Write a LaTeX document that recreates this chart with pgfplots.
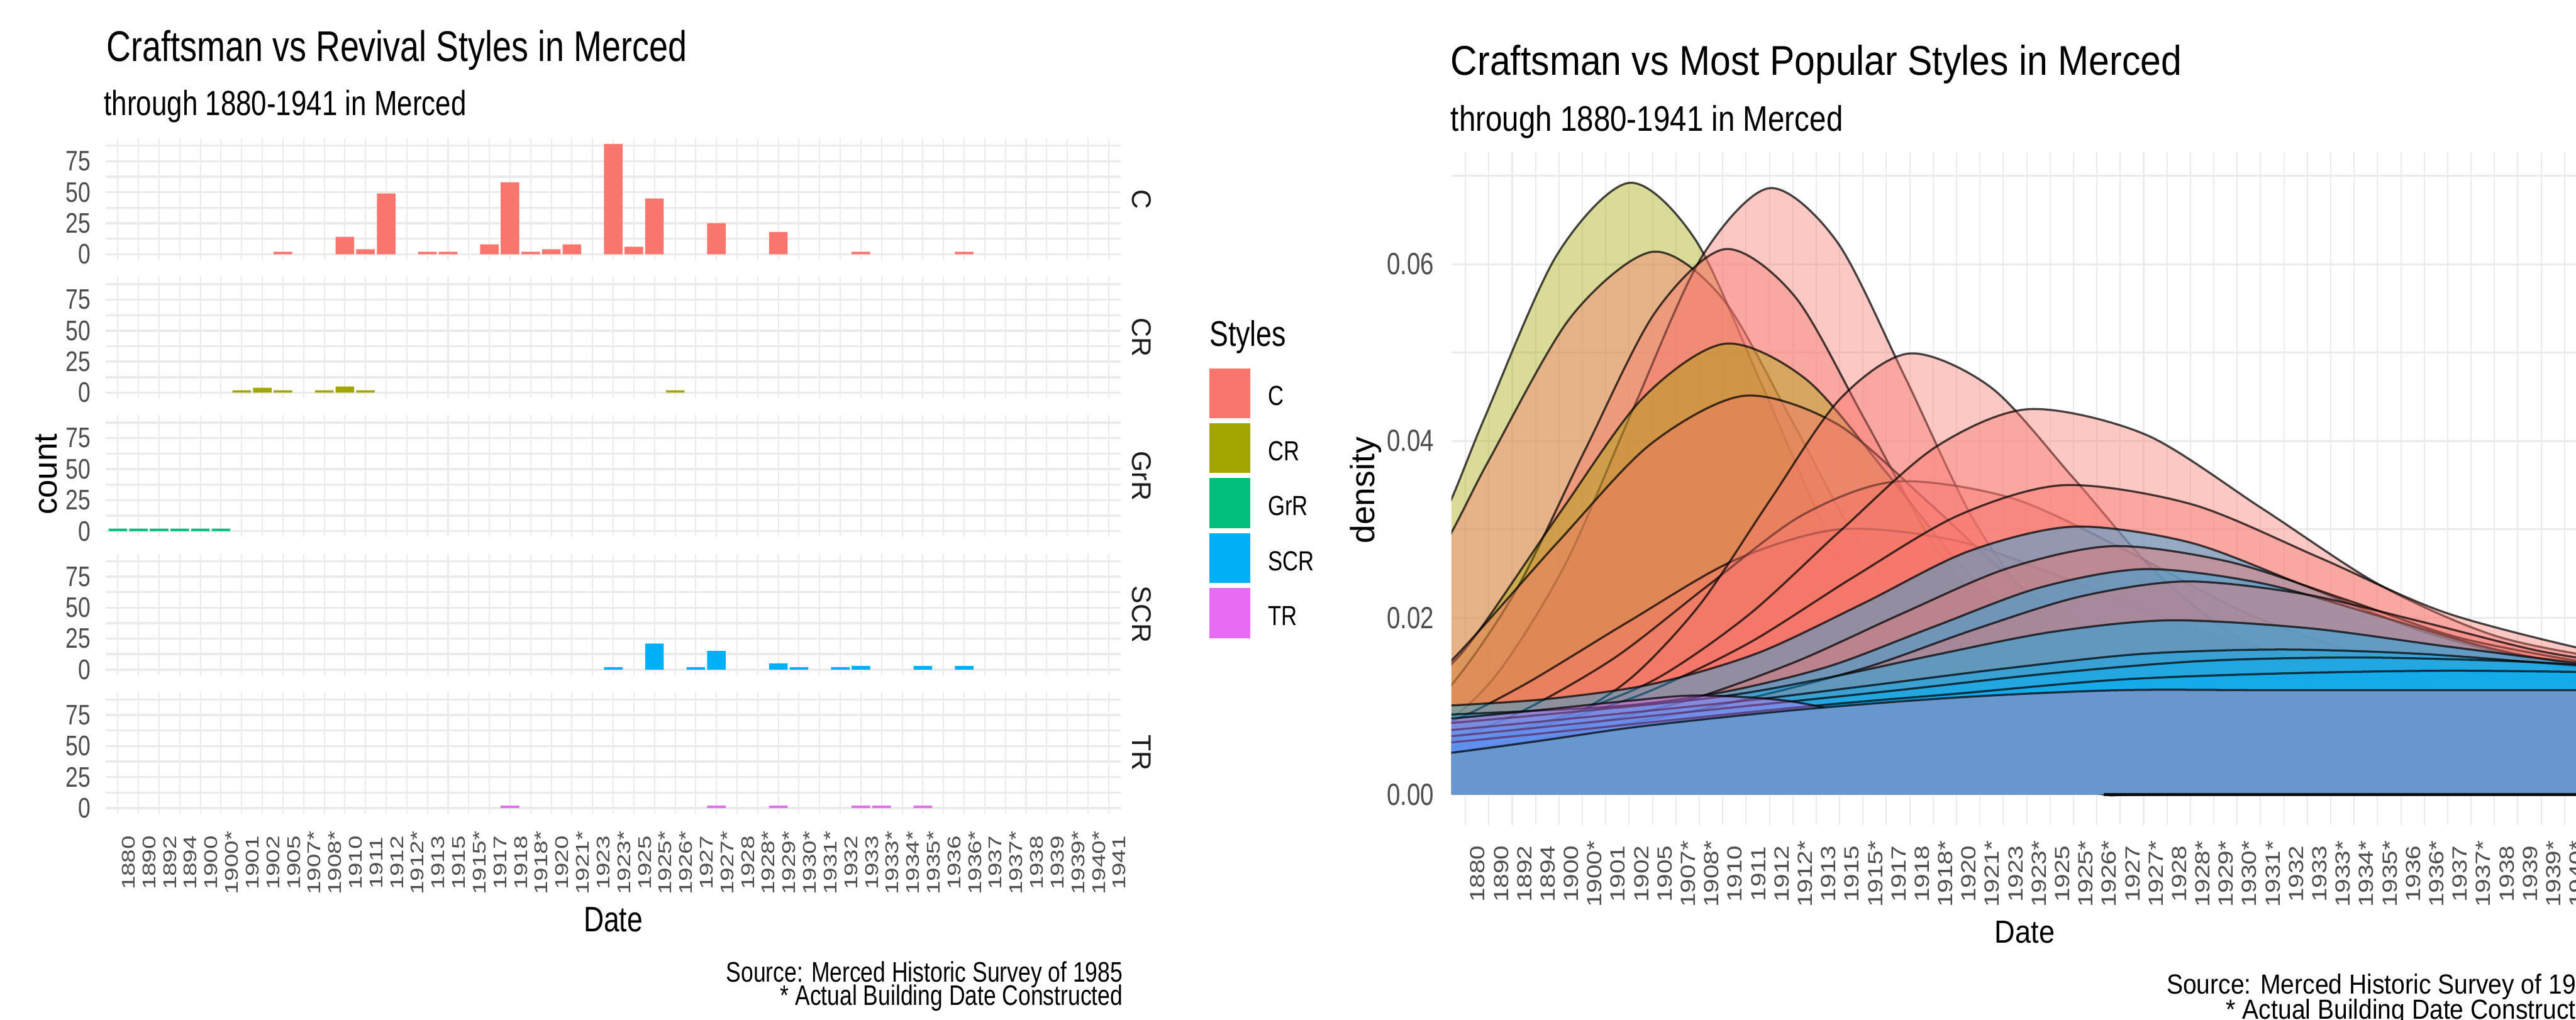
\documentclass[border=0pt]{standalone}
\usepackage{fontspec}
\setmainfont{Liberation Sans}
\newfontfamily\fa{Liberation Sans}[FakeStretch=0.79]
\newfontfamily\fb{Liberation Sans}[FakeStretch=0.89]
\newfontfamily\fc{Liberation Sans}[FakeStretch=0.84]
\newfontfamily\fx{Liberation Sans}[FakeStretch=1.32]
\newfontfamily\fy{Liberation Sans}[FakeStretch=1.24]
\usepackage{pgfplots}
\usepackage{pgfplotstable}
\pgfplotsset{compat=1.18}
\definecolor{cC}{HTML}{F8766D}
\definecolor{cCR}{HTML}{A3A500}
\definecolor{cGrR}{HTML}{00BF7D}
\definecolor{cSCR}{HTML}{00B0F6}
\definecolor{cTR}{HTML}{E76BF3}
\definecolor{gridc}{HTML}{EBEBEB}
\definecolor{tickc}{HTML}{4D4D4D}
\definecolor{stripc}{HTML}{1A1A1A}
\definecolor{plat}{RGB}{104,150,206}
\newcommand{\fs}[1]{\fontsize{#1}{#1}\selectfont}

% density curves (category index, density)
\pgfplotstableread[row sep=\\]{x y\\-4 0\\-4 0.0166\\-1 0.0311\\0.8 0.0425\\3.9 0.0610\\7 0.0692\\9.85 0.0627\\12.7 0.0462\\15.55 0.0292\\18.4 0.0180\\21.25 0.0126\\24.1 0.0110\\30 0.0108\\40 0.0108\\49.5 0.0108\\53 0.0108\\53 0\\}\tOa
\pgfplotstableread[row sep=\\]{x y\\-4 0\\-4 0.0164\\-1 0.0278\\1 0.0378\\4.5 0.0540\\8 0.0614\\11 0.0561\\14 0.0421\\17 0.0276\\20 0.0181\\23 0.0137\\26 0.0123\\32 0.0120\\40 0.0120\\49.5 0.0120\\53 0.0120\\53 0\\}\tRb
\pgfplotstableread[row sep=\\]{x y\\-4 0\\-4 0.0052\\-1 0.0079\\1.4 0.0138\\4.3 0.0262\\7.2 0.0438\\10.1 0.0608\\13 0.0686\\15.9 0.0625\\18.8 0.0472\\21.7 0.0312\\24.6 0.0206\\27.5 0.0157\\30.4 0.0138\\36 0.0132\\49.5 0.0132\\53 0.0132\\53 0\\}\tRa
\pgfplotstableread[row sep=\\]{x y\\-4 0\\-4 0.0062\\-1 0.0112\\2.1 0.0228\\5.1 0.0389\\8.1 0.0545\\11.1 0.0617\\14.1 0.0563\\17.1 0.0423\\20.1 0.0280\\23.1 0.0185\\26.1 0.0140\\29.1 0.0126\\36 0.0120\\49.5 0.0120\\53 0.0120\\53 0\\}\tRc
\pgfplotstableread[row sep=\\]{x y\\-4 0\\-4 0.0081\\-1 0.0138\\0.6 0.0186\\4.1 0.0321\\7.6 0.0449\\11.1 0.0510\\14.6 0.0469\\18.1 0.0361\\21.6 0.0247\\25.1 0.0173\\28.6 0.0139\\32.1 0.0125\\40 0.0120\\49.5 0.0120\\53 0.0120\\53 0\\}\tRd
\pgfplotstableread[row sep=\\]{x y\\-4 0\\-4 0.0090\\-1 0.0141\\3.9 0.0284\\7.9 0.0396\\11.9 0.0451\\15.9 0.0419\\19.9 0.0328\\23.9 0.0232\\27.9 0.0169\\31.9 0.0136\\35.9 0.0124\\42 0.0120\\49.5 0.0120\\53 0.0120\\53 0\\}\tRe
\pgfplotstableread[row sep=\\]{x y\\-4 0\\-4 0.0059\\-1 0.0078\\2.5 0.0124\\7 0.0196\\11.5 0.0265\\16 0.0300\\21 0.0287\\26 0.0241\\31 0.0189\\36 0.0152\\41 0.0135\\49.5 0.0126\\53 0.0126\\53 0\\}\tRj
\pgfplotstableread[row sep=\\]{x y\\-4 0\\-4 0.0045\\-1 0.0058\\2.4 0.0094\\6.4 0.0155\\10.4 0.0237\\14.4 0.0316\\18.4 0.0354\\23.4 0.0335\\28.4 0.0274\\33.4 0.0205\\38.4 0.0159\\43.4 0.0137\\49.5 0.0127\\53 0.0127\\53 0\\}\tRh
\pgfplotstableread[row sep=\\]{x y\\-4 0\\-4 0.0042\\-1 0.0047\\4 0.0084\\7 0.0130\\10 0.0214\\13 0.0332\\16 0.0447\\19 0.0499\\22.5 0.0460\\26 0.0358\\29.5 0.0252\\33 0.0178\\36.5 0.0143\\40 0.0130\\49.5 0.0126\\53 0.0126\\53 0\\}\tRf
\pgfplotstableread[row sep=\\]{x y\\-4 0\\-4 0.0046\\-1 0.0051\\4.1 0.0088\\8.1 0.0130\\12.1 0.0203\\16.1 0.0300\\20.1 0.0393\\24.1 0.0436\\29.1 0.0407\\34.1 0.0323\\39.1 0.0237\\44.1 0.0179\\49.5 0.0151\\53 0.0145\\53 0\\}\tRg
\pgfplotstableread[row sep=\\]{x y\\-4 0\\-4 0.0045\\-1 0.0050\\3.1 0.0076\\7.6 0.0114\\12.1 0.0171\\16.6 0.0246\\21.1 0.0316\\25.6 0.0350\\31.1 0.0328\\36.6 0.0267\\42.1 0.0204\\49.5 0.0155\\53 0.0150\\53 0\\}\tRi
\pgfplotstableread[row sep=\\]{x y\\-4 0\\-4 0.0095\\-1 0.0100\\3.5 0.0108\\8 0.0125\\12.5 0.0160\\17 0.0216\\21.5 0.0275\\26 0.0303\\31 0.0285\\36 0.0235\\41 0.0184\\46 0.0150\\49.5 0.0140\\53 0.0135\\53 0\\}\tBk
\pgfplotstableread[row sep=\\]{x y\\-4 0\\-4 0.0044\\-1 0.0046\\5.2 0.0079\\9.7 0.0108\\14.2 0.0151\\18.7 0.0205\\23.2 0.0256\\27.7 0.0281\\32.7 0.0263\\37.7 0.0220\\42.7 0.0176\\49.5 0.0143\\53 0.0140\\53 0\\}\tBa
\pgfplotstableread[row sep=\\]{x y\\-4 0\\-4 0.0087\\-1 0.0090\\6.55 0.0100\\11.05 0.0116\\15.55 0.0145\\20.05 0.0190\\24.55 0.0234\\29.05 0.0255\\34.05 0.0239\\39.05 0.0202\\44.05 0.0164\\49.5 0.0138\\53 0.0132\\53 0\\}\tBb
\pgfplotstableread[row sep=\\]{x y\\-4 0\\-4 0.0043\\-1 0.0045\\8.3 0.0087\\12.8 0.0113\\17.3 0.0145\\21.8 0.0187\\26.3 0.0224\\30.8 0.0241\\35.8 0.0227\\40.8 0.0196\\45.8 0.0163\\49.5 0.0148\\53 0.0142\\53 0\\}\tBc
\pgfplotstableread[row sep=\\]{x y\\-4 0\\-4 0.0077\\-1 0.0080\\10.1 0.0108\\15.1 0.0130\\20.1 0.0158\\25.1 0.0184\\30.1 0.0197\\36.1 0.0188\\42.1 0.0167\\49.5 0.0143\\53 0.0140\\53 0\\}\tBd
\pgfplotstableread[row sep=\\]{x y\\-4 0\\-4 0.0070\\-1 0.0072\\10.9 0.0103\\16.9 0.0122\\22.9 0.0142\\28.9 0.0159\\34.9 0.0164\\40.9 0.0159\\46.9 0.0147\\49.5 0.0142\\53 0.0140\\53 0\\}\tBe
\pgfplotstableread[row sep=\\]{x y\\-4 0\\-4 0.0063\\-1 0.0065\\12 0.0100\\18.5 0.0118\\25 0.0137\\31.5 0.0151\\38 0.0155\\44.5 0.0151\\49.5 0.0144\\53 0.0140\\53 0\\}\tBf
\pgfplotstableread[row sep=\\]{x y\\-4 0\\-4 0.0056\\-1 0.0058\\14 0.0098\\21 0.0114\\28 0.0130\\35 0.0137\\42 0.0140\\49.5 0.0138\\53 0.0137\\53 0\\}\tBg
\pgfplotstableread[row sep=\\]{x y\\-4 0\\-4 0.0080\\-1 0.0085\\3 0.0095\\7 0.0106\\10 0.0112\\14 0.0105\\18 0.0080\\22 0.0045\\25 0.0018\\27.3 0\\30 0\\49.5 0\\53 0\\}\tTa
\pgfplotstableread[row sep=\\]{x y\\-4 0\\-4 0.0040\\-1 0.0046\\3 0.0060\\7.5 0.0077\\14.3 0.0096\\21.2 0.0110\\28 0.0118\\35 0.0118\\49.5 0.0118\\53 0.0118\\53 0\\}\tBh

\pgfplotsset{
 facet/.style={anchor=north west, scale only axis, width=165.46mm, height=19.78mm,
  xmin=-0.6, xmax=48.6, ymin=-4.45, ymax=93.45,
  xtick={0,...,48}, ytick={0,25,50,75}, yticklabels={0,25,50,75},
  minor ytick={12.5,37.5,62.5,87.5},
  xmajorgrids, ymajorgrids, yminorgrids,
  grid style={gridc}, major grid style={gridc}, minor grid style={gridc, line width=0.95pt},
  x grid style={line width=0.6pt}, y grid style={line width=1pt},
  axis line style={draw=none}, major tick length=0pt, minor tick length=0pt,
  yticklabel style={font=\fa\fs{13.1pt}, text=tickc, anchor=east, inner sep=0pt, xshift=-2.38mm},
 },
 dens/.style={smooth, fill opacity=0.4, draw=none, fill=#1},
 dline/.style={smooth, draw=black, draw opacity=0.72, line width=0.95pt, fill=none},
}

\begin{document}
\begin{tikzpicture}
\fill[white] (0,0) rectangle (419.7mm,166.1mm);
\useasboundingbox (0,0) rectangle (419.7mm,166.1mm);

% ---------------- left: faceted bars ----------------
\begin{axis}[facet, at={(17.18mm,143.55mm)}, xticklabel=\empty]
\addplot[ybar, bar width=0.9, fill=cC, draw=none] coordinates {(8,2) (11,14) (12,4) (13,49) (15,2) (16,2) (18,8) (19,58) (20,2) (21,4) (22,8) (24,89) (25,6) (26,45) (29,25) (32,18) (36,2) (41,2)};
\end{axis}
\begin{axis}[facet, at={(17.18mm,120.99mm)}, xticklabel=\empty]
\addplot[ybar, bar width=0.9, fill=cCR, draw=none] coordinates {(6,2) (7,4) (8,2) (10,2) (11,5) (12,2) (27,2)};
\end{axis}
\begin{axis}[facet, at={(17.18mm,98.43mm)}, xticklabel=\empty]
\addplot[ybar, bar width=0.9, fill=cGrR, draw=none] coordinates {(0,2) (1,2) (2,2) (3,2) (4,2) (5,2)};
\end{axis}
\begin{axis}[facet, at={(17.18mm,75.87mm)}, xticklabel=\empty]
\addplot[ybar, bar width=0.9, fill=cSCR, draw=none] coordinates {(24,2) (26,21) (28,2) (29,15) (32,5) (33,2) (35,2) (36,3) (39,3) (41,3)};
\end{axis}
\begin{axis}[facet, at={(17.18mm,53.31mm)},
  xticklabels={1880,1890,1892,1894,1900,1900*,1901,1902,1905,1907*,1908*,1910,1911,1912,1912*,1913,1915,1915*,1917,1918,1918*,1920,1921*,1923,1923*,1925,1925*,1926*,1927,1927*,1928,1928*,1929*,1930*,1931*,1932,1933,1933*,1934*,1935*,1936,1936*,1937,1937*,1938,1939,1939*,1940*,1941},
  xticklabel style={font=\fx\fs{8.5pt}, text=tickc, inner sep=0pt, xshift=1.75mm, yshift=-8.03mm, rotate=90, anchor=center}]
\addplot[ybar, bar width=0.9, fill=cTR, draw=none] coordinates {(19,2) (29,2) (32,2) (36,2) (37,2) (39,2)};
\end{axis}

% ---------------- right: densities ----------------
\begin{axis}[at={(236.47mm,141.4mm)}, anchor=north west, scale only axis, width=187.46mm, height=109.75mm,
  xmin=-0.6, xmax=48.6, ymin=-0.00347, ymax=0.07274, scaled y ticks=false,
  xtick={0,...,48},
  xticklabels={1880,1890,1892,1894,1900,1900*,1901,1902,1905,1907*,1908*,1910,1911,1912,1912*,1913,1915,1915*,1917,1918,1918*,1920,1921*,1923,1923*,1925,1925*,1926*,1927,1927*,1928,1928*,1929*,1930*,1931*,1932,1933,1933*,1934*,1935*,1936,1936*,1937,1937*,1938,1939,1939*,1940*,1941},
  xticklabel style={font=\fy\fs{9.5pt}, text=tickc, inner sep=0pt, xshift=2.0mm, yshift=-7.95mm, rotate=90, anchor=center},
  ytick={0,0.02,0.04,0.06}, yticklabels={0.00,0.02,0.04,0.06},
  minor ytick={0.01,0.03,0.05,0.07},
  xmajorgrids, ymajorgrids, yminorgrids,
  grid style={gridc}, major grid style={gridc}, minor grid style={gridc, line width=0.7pt},
  x grid style={line width=0.6pt}, y grid style={line width=0.9pt},
  axis line style={draw=none}, major tick length=0pt, minor tick length=0pt,
  yticklabel style={font=\fa\fs{14.2pt}, text=tickc, anchor=east, inner sep=0pt, xshift=-2.77mm},
  ]
\addplot[dens=cCR] table {\tOa}; \addplot[dline] table {\tOa};
\addplot[dens=cC] table {\tRb}; \addplot[dline] table {\tRb};
\addplot[dens=cC] table {\tRa}; \addplot[dline] table {\tRa};
\addplot[dens=cC] table {\tRc}; \addplot[dline] table {\tRc};
\addplot[dens=cCR] table {\tRd}; \addplot[dline] table {\tRd};
\addplot[dens=cC] table {\tRe}; \addplot[dline] table {\tRe};
\addplot[dens=cC] table {\tRj}; \addplot[dline] table {\tRj};
\addplot[dens=cC] table {\tRh}; \addplot[dline] table {\tRh};
\addplot[dens=cC] table {\tRf}; \addplot[dline] table {\tRf};
\addplot[dens=cC] table {\tRg}; \addplot[dline] table {\tRg};
\addplot[dens=cC] table {\tRi}; \addplot[dline] table {\tRi};
\addplot[dens=cSCR] table {\tBk}; \addplot[dline] table {\tBk};
\addplot[dens=cC] table {\tBa}; \addplot[dline] table {\tBa};
\addplot[dens=cSCR] table {\tBb}; \addplot[dline] table {\tBb};
\addplot[dens=cC] table {\tBc}; \addplot[dline] table {\tBc};
\addplot[dens=cSCR] table {\tBd}; \addplot[dline] table {\tBd};
\addplot[dens=cSCR] table {\tBe}; \addplot[dline] table {\tBe};
\addplot[dens=cSCR] table {\tBf}; \addplot[dline] table {\tBf};
\addplot[dens=cSCR] table {\tBg}; \addplot[dline] table {\tBg};
\addplot[dens=cTR] table {\tTa}; \addplot[dline] table {\tTa};
\addplot[smooth, fill=plat, draw=none] table {\tBh}; \addplot[dline] table {\tBh};
\addplot[black, opacity=0.85, line width=1.3pt] coordinates {(27.3,0) (49,0)};
\end{axis}

\begin{scope}[x=0.1mm, y=0.1mm, every node/.style={inner sep=0pt}]
% left texts
\node[anchor=base west, font=\fa\fs{19.9pt}] at (173,1561) {Craftsman vs Revival Styles in Merced};
\node[anchor=base west, font=\fa\fs{16.2pt}] at (169,1473) {through 1880-1941 in Merced};
\node[rotate=90, font=\fs{15.4pt}] at (76,888) {count};
\node[anchor=base, font=\fa\fs{16.4pt}] at (999,143) {Date};
\node[anchor=base east, font=\fa\fs{13.1pt}] at (1830,61) {Source: Merced Historic Survey of 1985};
\node[anchor=base east, font=\fa\fs{13.1pt}] at (1830,23) {* Actual Building Date Constructed};
\node[rotate=-90, font=\fs{12.5pt}, text=stripc] at (1860,1336.6) {C};
\node[rotate=-90, font=\fs{12.5pt}, text=stripc] at (1860,1111) {CR};
\node[rotate=-90, font=\fs{12.5pt}, text=stripc] at (1860,885.4) {GrR};
\node[rotate=-90, font=\fs{12.5pt}, text=stripc] at (1860,659.8) {SCR};
\node[rotate=-90, font=\fs{12.5pt}, text=stripc] at (1860,434.2) {TR};
% legend
\node[anchor=base west, font=\fa\fs{16.5pt}] at (1970,1097) {Styles};
\fill[cC] (1970,1061) rectangle (2037,979.8);
\fill[cCR] (1970,971.4) rectangle (2037,890.2);
\fill[cGrR] (1970,881.8) rectangle (2037,800.6);
\fill[cSCR] (1970,792.2) rectangle (2037,711);
\fill[cTR] (1970,702.6) rectangle (2037,621.4);
\node[anchor=base west, font=\fa\fs{12.8pt}] at (2065,1000.4) {C};
\node[anchor=base west, font=\fa\fs{12.8pt}] at (2065,910.8) {CR};
\node[anchor=base west, font=\fa\fs{12.8pt}] at (2065,821.2) {GrR};
\node[anchor=base west, font=\fa\fs{12.8pt}] at (2065,731.6) {SCR};
\node[anchor=base west, font=\fa\fs{12.8pt}] at (2065,642) {TR};
% right texts
\node[anchor=base west, font=\fb\fs{19.3pt}] at (2363,1539) {Craftsman vs Most Popular Styles in Merced};
\node[anchor=base west, font=\fc\fs{16.5pt}] at (2363,1447) {through 1880-1941 in Merced};
\node[rotate=90, font=\fs{15.6pt}] at (2225,862) {density};
\node[anchor=base, font=\fb\fs{14.8pt}] at (3299,124) {Date};
\node[anchor=base east, font=\fb\fs{12.8pt}] at (4242,42) {Source: Merced Historic Survey of 1985};
\node[anchor=base east, font=\fb\fs{12.8pt}] at (4242,1) {* Actual Building Date Constructed};
\end{scope}
\end{tikzpicture}
\end{document}
